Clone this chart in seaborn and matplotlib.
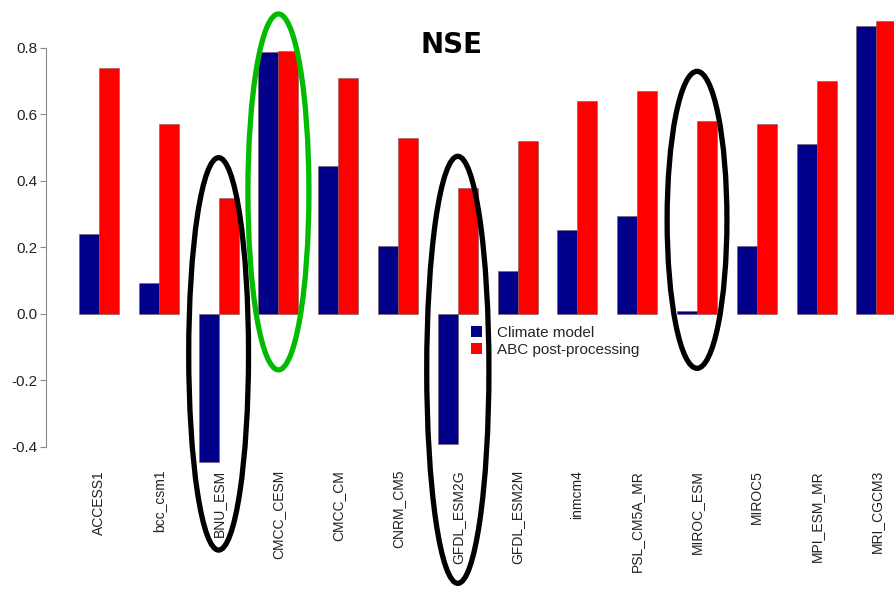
import pandas as pd
import seaborn as sns
import matplotlib.pyplot as plt
from matplotlib.patches import Ellipse, Patch

# NSE values
models = ['ACCESS1', 'bcc_csm1', 'BNU_ESM', 'CMCC_CESM', 'CMCC_CM', 'CNRM_CM5',
          'GFDL_ESM2G', 'GFDL_ESM2M', 'inmcm4', 'PSL_CM5A_MR', 'MIROC_ESM',
          'MIROC5', 'MPI_ESM_MR', 'MRI_CGCM3']
climate_model = [0.24, 0.093, -0.445, 0.788, 0.445, 0.205, -0.39, 0.13,
                 0.253, 0.295, 0.01, 0.205, 0.51, 0.865]
abc_post = [0.74, 0.57, 0.35, 0.79, 0.71, 0.53, 0.38, 0.52,
            0.64, 0.67, 0.58, 0.57, 0.70, 0.88]
series_names = ['Climate model', 'ABC post-processing']
y_ticks = [-0.4, -0.2, 0.0, 0.2, 0.4, 0.6, 0.8]

# highlighted models (ellipses)
highlight_models = ['BNU_ESM', 'CMCC_CESM', 'GFDL_ESM2G', 'MIROC_ESM']

df = pd.DataFrame({
    'model': models * 2,
    'source': [series_names[0]] * len(models) + [series_names[1]] * len(models),
    'nse': climate_model + abc_post,
})

sns.set_style('white')
plt.rcParams['font.family'] = ['Liberation Sans', 'DejaVu Sans']

fig = plt.figure(figsize=(8.94, 5.89), dpi=100)
ax = fig.add_axes([0, 0, 1, 1])

colors = {'Climate model': '#00008B', 'ABC post-processing': '#FF0000'}
sns.barplot(data=df, x='model', y='nse', hue='source', order=models,
            hue_order=series_names, palette=colors, width=0.67, saturation=1,
            edgecolor='#7a5a5a', linewidth=0.4, ax=ax)

ax.set_xlim(-1.656, 13.294)
ax.set_ylim(-0.827, 0.944)
ax.set_xlabel('')
ax.set_ylabel('')

# y axis like R's barplot
for s in ['top', 'right']:
    ax.spines[s].set_visible(False)
ax.spines['left'].set_position(('data', -0.886))
ax.spines['left'].set_bounds(-0.4, 0.8)
ax.spines['left'].set_color('#888888')
ax.spines['left'].set_linewidth(0.8)
ax.set_yticks(y_ticks)
ax.set_yticklabels([f'{v:.1f}' for v in y_ticks])
ax.tick_params(axis='y', left=True, length=4.3, width=0.8, color='#888888',
               labelsize=11, pad=2, labelcolor='#222222')

# rotated model names below the bars
ax.spines['bottom'].set_position(('data', -0.465))
ax.spines['bottom'].set_visible(False)
ax.set_xticks(range(len(models)))
ax.set_xticklabels(models, rotation=90, fontsize=10, color='#222222')
ax.tick_params(axis='x', length=0, pad=1)

# legend in the middle of the plot
handles = [Patch(facecolor=colors[n], edgecolor='none') for n in series_names]
ax.legend(handles, series_names, loc='upper left',
          bbox_to_anchor=(460 / 894, 1 - 315 / 589), frameon=False,
          fontsize=11, handlelength=0.75, handleheight=0.75,
          handletextpad=1.0, labelspacing=0.2, borderpad=0.2)

# title
ax.text(0.505, 0.923, 'NSE', transform=ax.transAxes, ha='center', va='center',
        fontsize=20, fontweight='bold', family='DejaVu Sans', color='black')

# ellipses around the highlighted models
ell = [(-0.12, 1.0, 1.18, 'black'),
       (0.367, 1.02, 1.07, '#00BB00'),
       (-0.168, 1.04, 1.284, 'black'),
       (0.283, 1.0, 0.893, 'black')]
for m, (yc, w, h, c) in zip(highlight_models, ell):
    ax.add_patch(Ellipse((models.index(m), yc), w, h, fill=False,
                         edgecolor=c, linewidth=3.8, clip_on=False, zorder=5))

fig.savefig('out.png', dpi=100)
